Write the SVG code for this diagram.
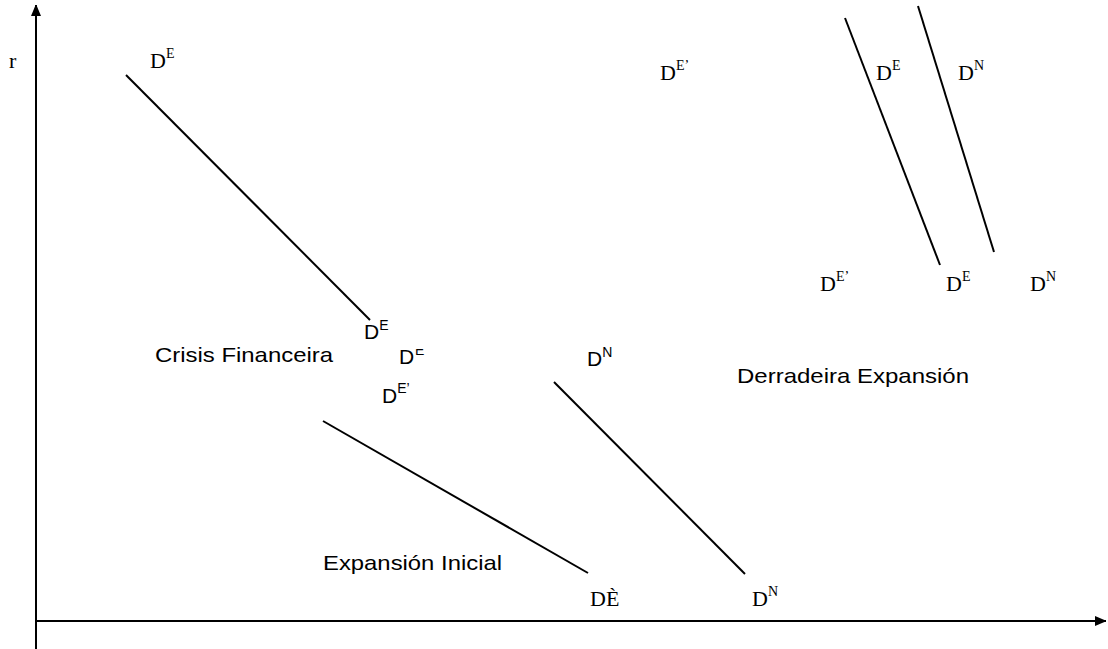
<svg xmlns="http://www.w3.org/2000/svg" width="1108" height="649" viewBox="0 0 1108 649">
<style>
.ax{stroke:#000;stroke-width:2;fill:none}
.ln{stroke:#000;stroke-width:2;fill:none}
.sf{font-family:"Liberation Serif","Times New Roman",serif;font-size:22px;fill:#000}
.sfs{font-family:"Liberation Serif","Times New Roman",serif;font-size:14px;fill:#000}
.ss{font-family:"Liberation Sans",Arial,sans-serif;font-size:21px;fill:#000}
.sss{font-family:"Liberation Sans",Arial,sans-serif;font-size:14px;fill:#000}
</style>
<defs>
<marker id="ah" markerWidth="10" markerHeight="12" refX="11" refY="5" orient="auto" markerUnits="userSpaceOnUse">
<path d="M0,0 L12,5 L0,10 Z" fill="#000"/>
</marker>
<clipPath id="cut"><rect x="410" y="349" width="20" height="20"/></clipPath>
</defs>
<rect width="1108" height="649" fill="#fff"/>
<g id="axes">
<line class="ax" x1="36" y1="649" x2="36" y2="5" marker-end="url(#ah)"/>
<line class="ax" x1="36" y1="621" x2="1106" y2="621" marker-end="url(#ah)"/>
<text class="sf" x="9" y="68">r</text>
</g>
<g id="connectors">
<line class="ln" x1="126" y1="75" x2="370" y2="320"/>
<line class="ln" x1="323" y1="421" x2="588" y2="573"/>
<line class="ln" x1="554" y1="382" x2="745" y2="574"/>
<line class="ln" x1="845" y1="18" x2="940" y2="265"/>
<line class="ln" x1="918" y1="6" x2="994" y2="252"/>
</g>
<g id="labels-serif">
<text class="sf" x="150" y="68">D<tspan class="sfs" dy="-10">E</tspan></text>
<text class="sf" x="660" y="80">D<tspan class="sfs" dy="-10">E’</tspan></text>
<text class="sf" x="876" y="80">D<tspan class="sfs" dy="-10">E</tspan></text>
<text class="sf" x="958" y="80">D<tspan class="sfs" dy="-10">N</tspan></text>
<text class="sf" x="820" y="291">D<tspan class="sfs" dy="-10">E’</tspan></text>
<text class="sf" x="946" y="291">D<tspan class="sfs" dy="-10">E</tspan></text>
<text class="sf" x="1030" y="291">D<tspan class="sfs" dy="-10">N</tspan></text>
<text class="sf" x="590" y="606">DÈ</text>
<text class="sf" x="752" y="606">D<tspan class="sfs" dy="-10">N</tspan></text>
</g>
<g id="labels-sans">
<text class="ss" x="364" y="339">D<tspan class="sss" dy="-9">E</tspan></text>
<text class="ss" x="399" y="364">D</text>
<text class="sss" x="415" y="355" clip-path="url(#cut)">E</text>
<text class="ss" x="382" y="403">D<tspan class="sss" dy="-10">E’</tspan></text>
<text class="ss" x="587" y="366">D<tspan class="sss" dy="-9">N</tspan></text>
</g>
<g id="phase-crisis"><text class="ss" x="155" y="362" textLength="178" lengthAdjust="spacingAndGlyphs">Crisis Financeira</text></g>
<g id="phase-derradeira"><text class="ss" x="737" y="383" textLength="232" lengthAdjust="spacingAndGlyphs">Derradeira Expansión</text></g>
<g id="phase-inicial"><text class="ss" x="323" y="570" textLength="179" lengthAdjust="spacingAndGlyphs">Expansión Inicial</text></g>
</svg>
